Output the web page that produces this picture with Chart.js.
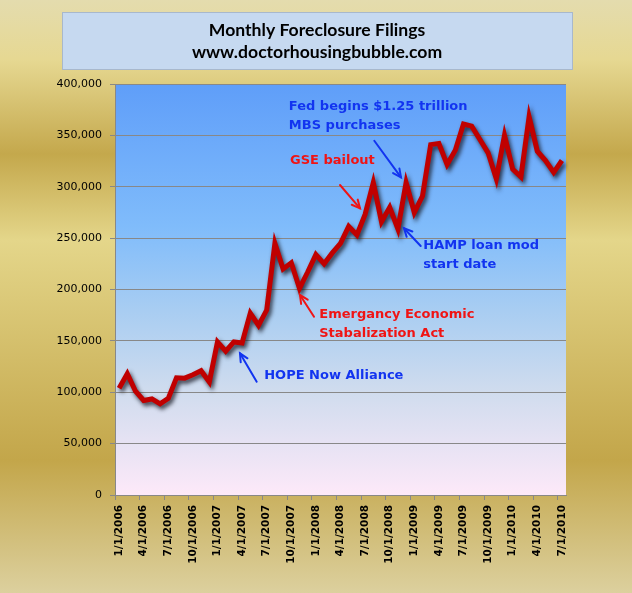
<!DOCTYPE html>
<html>
<head>
<meta charset="utf-8">
<script src="https://cdn.jsdelivr.net/npm/chart.js@4"></script>
<style>
html,body{margin:0;padding:0;background:#e4d68a;}
canvas{display:block;}
</style>
</head>
<body>
<canvas id="c" width="632" height="593"></canvas>
<script>
// ---- data ----
const categories = [
  '1/1/2006','2/1/2006','3/1/2006','4/1/2006','5/1/2006','6/1/2006','7/1/2006','8/1/2006','9/1/2006','10/1/2006','11/1/2006','12/1/2006',
  '1/1/2007','2/1/2007','3/1/2007','4/1/2007','5/1/2007','6/1/2007','7/1/2007','8/1/2007','9/1/2007','10/1/2007','11/1/2007','12/1/2007',
  '1/1/2008','2/1/2008','3/1/2008','4/1/2008','5/1/2008','6/1/2008','7/1/2008','8/1/2008','9/1/2008','10/1/2008','11/1/2008','12/1/2008',
  '1/1/2009','2/1/2009','3/1/2009','4/1/2009','5/1/2009','6/1/2009','7/1/2009','8/1/2009','9/1/2009','10/1/2009','11/1/2009','12/1/2009',
  '1/1/2010','2/1/2010','3/1/2010','4/1/2010','5/1/2010','6/1/2010','7/1/2010'
];
const filings = [
  104000,118000,101000,92000,93500,88700,94000,114000,113700,117000,121000,110000,
  149000,140000,149000,148000,177000,165000,180000,245000,220000,226000,201000,217000,
  234000,225000,235600,245000,261500,253000,273000,304000,266000,280000,259000,304000,
  275000,291000,341000,342000,321600,335600,361000,359000,346000,333000,307700,350000,
  317000,309600,368000,334600,325500,314000,325500
];
const yTicks = [0,50000,100000,150000,200000,250000,300000,350000,400000];
const titleLines = ['Monthly Foreclosure Filings','www.doctorhousingbubble.com'];
const annotationTexts = [
  ['Fed begins $1.25 trillion','MBS purchases'],
  ['GSE bailout'],
  ['HAMP loan mod','start date'],
  ['Emergancy Economic','Stabalization Act'],
  ['HOPE Now Alliance']
];
// annotation anchors in data space: [categoryIndex, value]
const annotationAnchors = [
  {text:[20.7,377900], from:[31.12,344800], to:[34.38,309200], color:'#1234F0'},
  {text:[20.84,325000], from:[26.94,301700], to:[29.38,279000], color:'#F01414'},
  {text:[37.1,242300], from:[36.78,242300], to:[34.74,259600], color:'#1234F0'},
  {text:[24.41,175200], from:[23.77,173500], to:[22.06,194600], color:'#F01414'},
  {text:[17.7,115800], from:[16.78,110300], to:[14.74,137900], color:'#1234F0'}
];

const bgPlugin = {
  id:'bg',
  beforeDraw(chart){
    const c = chart.ctx, W = chart.width, H = chart.height, a = chart.chartArea;
    c.save();
    const g = c.createLinearGradient(0,0,0,H);
    g.addColorStop(0,'#e4dcae');
    g.addColorStop(0.10,'#e6d892');
    g.addColorStop(0.26,'#c4a84c');
    g.addColorStop(0.405,'#e4d68a');
    g.addColorStop(0.776,'#c3a64a');
    g.addColorStop(1,'#dcd09e');
    c.fillStyle = g;
    c.fillRect(0,0,W,H);
    // title box
    c.fillStyle = '#c6d9f0';
    c.fillRect(63,13,509,56);
    c.strokeStyle = '#a8b8cc';
    c.lineWidth = 1;
    c.strokeRect(62.5,12.5,510,57);
    c.fillStyle = '#000';
    c.font = 'bold 17.6px Lato';
    c.textAlign = 'center';
    c.textBaseline = 'middle';
    c.fillText(titleLines[0], 317, 30);
    c.fillText(titleLines[1], 317, 52);
    // plot area
    const pg = c.createLinearGradient(0,a.top,0,a.bottom);
    pg.addColorStop(0,'#5f9ef9');
    pg.addColorStop(0.35,'#80bcfb');
    pg.addColorStop(0.55,'#a8cdf2');
    pg.addColorStop(0.75,'#d0dcee');
    pg.addColorStop(1,'#fde9f9');
    c.fillStyle = pg;
    c.fillRect(a.left,a.top,a.right-a.left,a.bottom-a.top);
    c.restore();
  }
};

const shadowPlugin = {
  id:'shadow',
  beforeDatasetDraw(chart){
    const c = chart.ctx;
    c.save();
    c.shadowColor = 'rgba(20,20,30,0.8)';
    c.shadowBlur = 4;
    c.shadowOffsetX = 2;
    c.shadowOffsetY = 3;
  },
  afterDatasetDraw(chart){
    chart.ctx.restore();
  }
};

function arrow(c, x1, y1, x2, y2, color){
  c.strokeStyle = color;
  c.lineWidth = 2;
  c.lineCap = 'round';
  c.beginPath(); c.moveTo(x1,y1); c.lineTo(x2,y2); c.stroke();
  const ang = Math.atan2(y2-y1, x2-x1), L = 9, s = 0.45;
  c.beginPath();
  c.moveTo(x2 - L*Math.cos(ang - s), y2 - L*Math.sin(ang - s));
  c.lineTo(x2, y2);
  c.lineTo(x2 - L*Math.cos(ang + s), y2 - L*Math.sin(ang + s));
  c.stroke();
}

const annotationPlugin = {
  id:'notes',
  afterDraw(chart){
    const c = chart.ctx, xs = chart.scales.x, ys = chart.scales.y;
    const px = i => xs.getPixelForValue(0) + (xs.getPixelForValue(1)-xs.getPixelForValue(0))*i;
    const py = v => ys.getPixelForValue(v);
    c.save();
    annotationAnchors.forEach((an, k) => {
      arrow(c, px(an.from[0]), py(an.from[1]), px(an.to[0]), py(an.to[1]), an.color);
      c.fillStyle = an.color;
      c.font = 'bold 13px "DejaVu Sans"';
      c.textAlign = 'left';
      c.textBaseline = 'middle';
      annotationTexts[k].forEach((t, j) => {
        c.fillText(t, px(an.text[0]), py(an.text[1]) + j*18.5);
      });
    });
    c.restore();
  }
};

new Chart(document.getElementById('c'), {
  type:'line',
  data:{
    labels:categories,
    datasets:[{
      data:filings,
      borderColor:'#C00000',
      borderWidth:5,
      pointRadius:0,
      tension:0,
      borderJoinStyle:'miter',
      fill:false
    }]
  },
  options:{
    responsive:false,
    animation:false,
    devicePixelRatio:1,
    layout:{padding:{top:84,right:66,left:0,bottom:0}},
    plugins:{legend:{display:false}, tooltip:{enabled:false}, title:{display:false}},
    scales:{
      x:{
        offset:true,
        grid:{offset:true, drawOnChartArea:false, drawTicks:true, tickLength:5,
              color: ctx => (ctx.index % 3 === 0 ? '#888' : 'rgba(0,0,0,0)')},
        border:{color:'#888'},
        ticks:{autoSkip:false, maxRotation:90, minRotation:90, padding:5, color:'#000',
               font:{family:'DejaVu Sans', weight:'bold', size:10.5},
               callback:(v,i) => (i % 3 === 0 ? categories[i] : '')},
        afterFit: s => { s.height = 98; }
      },
      y:{
        min:0, max:400000,
        afterBuildTicks: s => { s.ticks = yTicks.map(v => ({value:v})); },
        ticks:{padding:8, color:'#000', font:{family:'DejaVu Sans', size:11},
               callback: v => v.toLocaleString('en-US')},
        grid:{color:'#888', tickLength:5},
        border:{color:'#888'},
        afterFit: s => { s.width = 115; }
      }
    }
  },
  plugins:[bgPlugin, shadowPlugin, annotationPlugin]
});
</script>
</body>
</html>
